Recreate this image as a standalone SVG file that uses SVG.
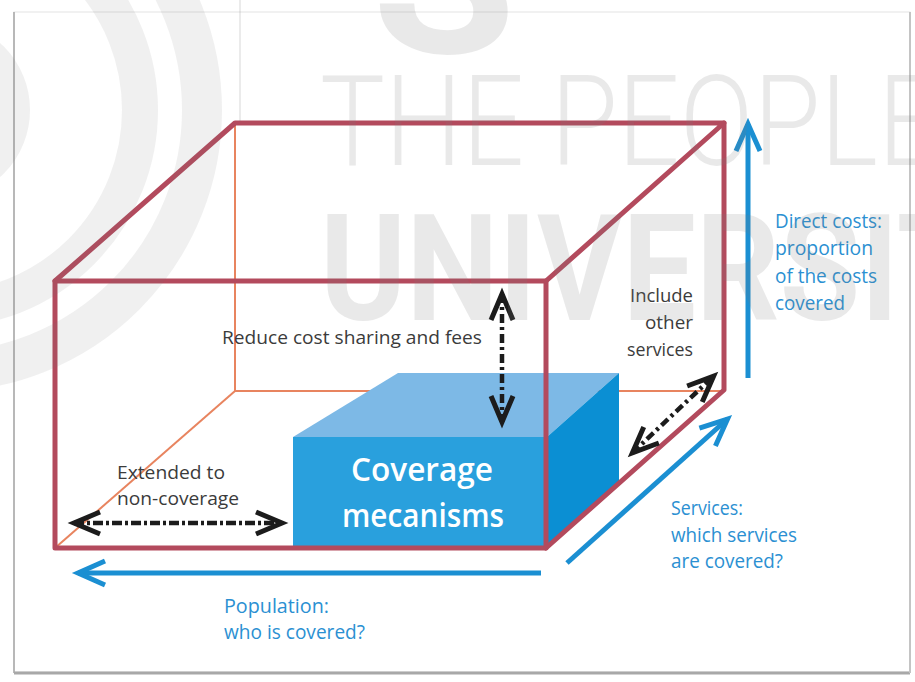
<svg xmlns="http://www.w3.org/2000/svg" width="915" height="682" viewBox="0 0 915 682">
  <style>
    .lbl { font-family: "Open Sans", "Noto Sans", "Liberation Sans", sans-serif; font-size: 19px; fill: #3b3b3b; }
    .axis { font-family: "Open Sans", "Noto Sans", "Liberation Sans", sans-serif; font-size: 20px; fill: #2b90d2; }
    .core { font-family: "Open Sans", "Noto Sans", "Liberation Sans", sans-serif; font-size: 32px; font-weight: 600; fill: #ffffff; }
    .edge { fill: none; stroke: #b34a5d; stroke-width: 5; stroke-linejoin: round; stroke-linecap: round; }
    .hidden { fill: none; stroke: #e8845f; stroke-width: 2; }
    .blue { fill: none; stroke: #1b8fd2; stroke-width: 5; }
    .dash { fill: none; stroke: #1c1c1c; stroke-width: 4.5; stroke-dasharray: 9 4 3 4; }
    .mark { fill: #7a7a7a; fill-opacity: 0.17; }
    .ring { fill: none; stroke: #7a7a7a; stroke-opacity: 0.11; }
  </style>
  <defs>
    <marker id="headBlue" markerUnits="userSpaceOnUse" viewBox="-40 -20 50 40" markerWidth="50" markerHeight="40" refX="0" refY="0" orient="auto" overflow="visible">
      <path d="M-27,-12 L0,0 L-27,12" fill="none" stroke="#1b8fd2" stroke-width="5" stroke-linejoin="miter"/>
    </marker>
    <marker id="headBlack" markerUnits="userSpaceOnUse" viewBox="-40 -20 50 40" markerWidth="50" markerHeight="40" refX="0" refY="0" orient="auto-start-reverse" overflow="visible">
      <path d="M-26,-11 L0,0 L-26,11" fill="none" stroke="#1c1c1c" stroke-width="5" stroke-linejoin="miter"/>
    </marker>
    <clipPath id="panelClip">
      <rect x="0" y="0" width="915" height="682"/>
    </clipPath>
  </defs>

  <!-- page and framed panel -->
  <rect x="0" y="0" width="915" height="682" fill="#ffffff"/>
  <rect x="14" y="12" width="896" height="660" fill="#ffffff" stroke="#e4e4e4" stroke-width="1"/>
  <line x1="14" y1="12" x2="14" y2="673" stroke="#b8b8b8" stroke-width="2"/>
  <line x1="14" y1="673" x2="910" y2="673" stroke="#a8a8a8" stroke-width="3"/>
  <line x1="910" y1="12" x2="910" y2="673" stroke="#c4c4c4" stroke-width="2"/>

  <!-- outer box: hidden rear edges -->
  <g id="box-rear">
    <line class="hidden" x1="235" y1="123" x2="235" y2="391"/>
    <line class="hidden" x1="235" y1="391" x2="724" y2="391"/>
    <line class="hidden" x1="235" y1="391" x2="55" y2="548"/>
  </g>

  <!-- inner block -->
  <g id="coverage-block">
    <polygon points="293,437 547,437 619,373 398,373" fill="#7db9e6"/>
    <polygon points="547,437 619,373 619,484 547,548" fill="#0b8fd3"/>
    <rect x="293" y="437" width="254" height="111" fill="#29a0dd"/>
    <text class="core" x="422" y="481" text-anchor="middle" textLength="142" lengthAdjust="spacingAndGlyphs">Coverage</text>
    <text class="core" x="423" y="527" text-anchor="middle" textLength="162" lengthAdjust="spacingAndGlyphs">mecanisms</text>
  </g>

  <!-- outer box: visible edges -->
  <g id="box-frame">
    <rect class="edge" x="55" y="281" width="491" height="267"/>
    <polyline class="edge" points="55,281 235,123 724,123 546,281"/>
    <polyline class="edge" points="724,123 724,390 546,548"/>
  </g>

  <g id="connectors">
    <!-- dimension axes -->
    <line class="blue" x1="748" y1="378" x2="748" y2="124" marker-end="url(#headBlue)"/>
    <line class="blue" x1="567" y1="563" x2="727.5" y2="419" marker-end="url(#headBlue)"/>
    <line class="blue" x1="541" y1="573" x2="78" y2="573" marker-end="url(#headBlue)"/>
    <!-- directions of extension -->
    <line class="dash" x1="502" y1="294" x2="502" y2="422" marker-start="url(#headBlack)" marker-end="url(#headBlack)"/>
    <line class="dash" x1="74" y1="523" x2="282" y2="523" style="stroke-dasharray: 10 3 3 3" marker-start="url(#headBlack)" marker-end="url(#headBlack)"/>
    <line class="dash" x1="632.4" y1="452.9" x2="713.6" y2="376.1" marker-start="url(#headBlack)" marker-end="url(#headBlack)"/>
  </g>

  <g id="label-cost-sharing">
    <text class="lbl" x="222" y="344" textLength="260" lengthAdjust="spacingAndGlyphs">Reduce cost sharing and fees</text>
  </g>
  <g id="label-other-services">
    <text class="lbl" x="693" y="302" text-anchor="end" textLength="63" lengthAdjust="spacingAndGlyphs">Include</text>
    <text class="lbl" x="693" y="329" text-anchor="end" textLength="48" lengthAdjust="spacingAndGlyphs">other</text>
    <text class="lbl" x="693" y="356" text-anchor="end" textLength="66" lengthAdjust="spacingAndGlyphs">services</text>
  </g>
  <g id="label-non-coverage">
    <text class="lbl" x="117" y="479" textLength="108" lengthAdjust="spacingAndGlyphs">Extended to</text>
    <text class="lbl" x="117" y="505" textLength="122" lengthAdjust="spacingAndGlyphs">non-coverage</text>
  </g>
  <g id="axis-direct-costs">
    <text class="axis" x="775" y="228" textLength="107" lengthAdjust="spacingAndGlyphs">Direct costs:</text>
    <text class="axis" x="775" y="255" textLength="98" lengthAdjust="spacingAndGlyphs">proportion</text>
    <text class="axis" x="775" y="283" textLength="102" lengthAdjust="spacingAndGlyphs">of the costs</text>
    <text class="axis" x="775" y="310" textLength="70" lengthAdjust="spacingAndGlyphs">covered</text>
  </g>
  <g id="axis-services">
    <text class="axis" x="671" y="515" textLength="72" lengthAdjust="spacingAndGlyphs">Services:</text>
    <text class="axis" x="671" y="542" textLength="126" lengthAdjust="spacingAndGlyphs">which services</text>
    <text class="axis" x="671" y="568" textLength="112" lengthAdjust="spacingAndGlyphs">are covered?</text>
  </g>
  <g id="axis-population">
    <text class="axis" x="224" y="613" textLength="105" lengthAdjust="spacingAndGlyphs">Population:</text>
    <text class="axis" x="224" y="639" textLength="141" lengthAdjust="spacingAndGlyphs">who is covered?</text>
  </g>

  <!-- translucent publisher mark laid over the page -->
  <g id="publisher-mark" clip-path="url(#panelClip)">
    <circle class="ring" cx="-60" cy="110" r="75" stroke-width="30"/>
    <circle class="ring" cx="-60" cy="110" r="200" stroke-width="36"/>
    <circle class="ring" cx="-60" cy="110" r="262" stroke-width="40"/>
    <line x1="240" y1="0" x2="240" y2="121" stroke="#7a7a7a" stroke-opacity="0.2" stroke-width="1.5"/>
    <text class="mark" x="372" y="53" font-family="Roboto, 'Liberation Sans', sans-serif" font-weight="700" font-size="220" textLength="144" lengthAdjust="spacingAndGlyphs">S</text>
    <text class="mark" x="320" y="165" font-family="Roboto, 'Liberation Sans', sans-serif" font-weight="300" font-size="126" textLength="620" lengthAdjust="spacingAndGlyphs">THE PEOPLE</text>
    <text class="mark" x="320" y="320" font-family="Roboto, 'Liberation Sans', sans-serif" font-weight="700" font-size="148" textLength="740" lengthAdjust="spacingAndGlyphs">UNIVERSITY</text>
  </g>
</svg>
